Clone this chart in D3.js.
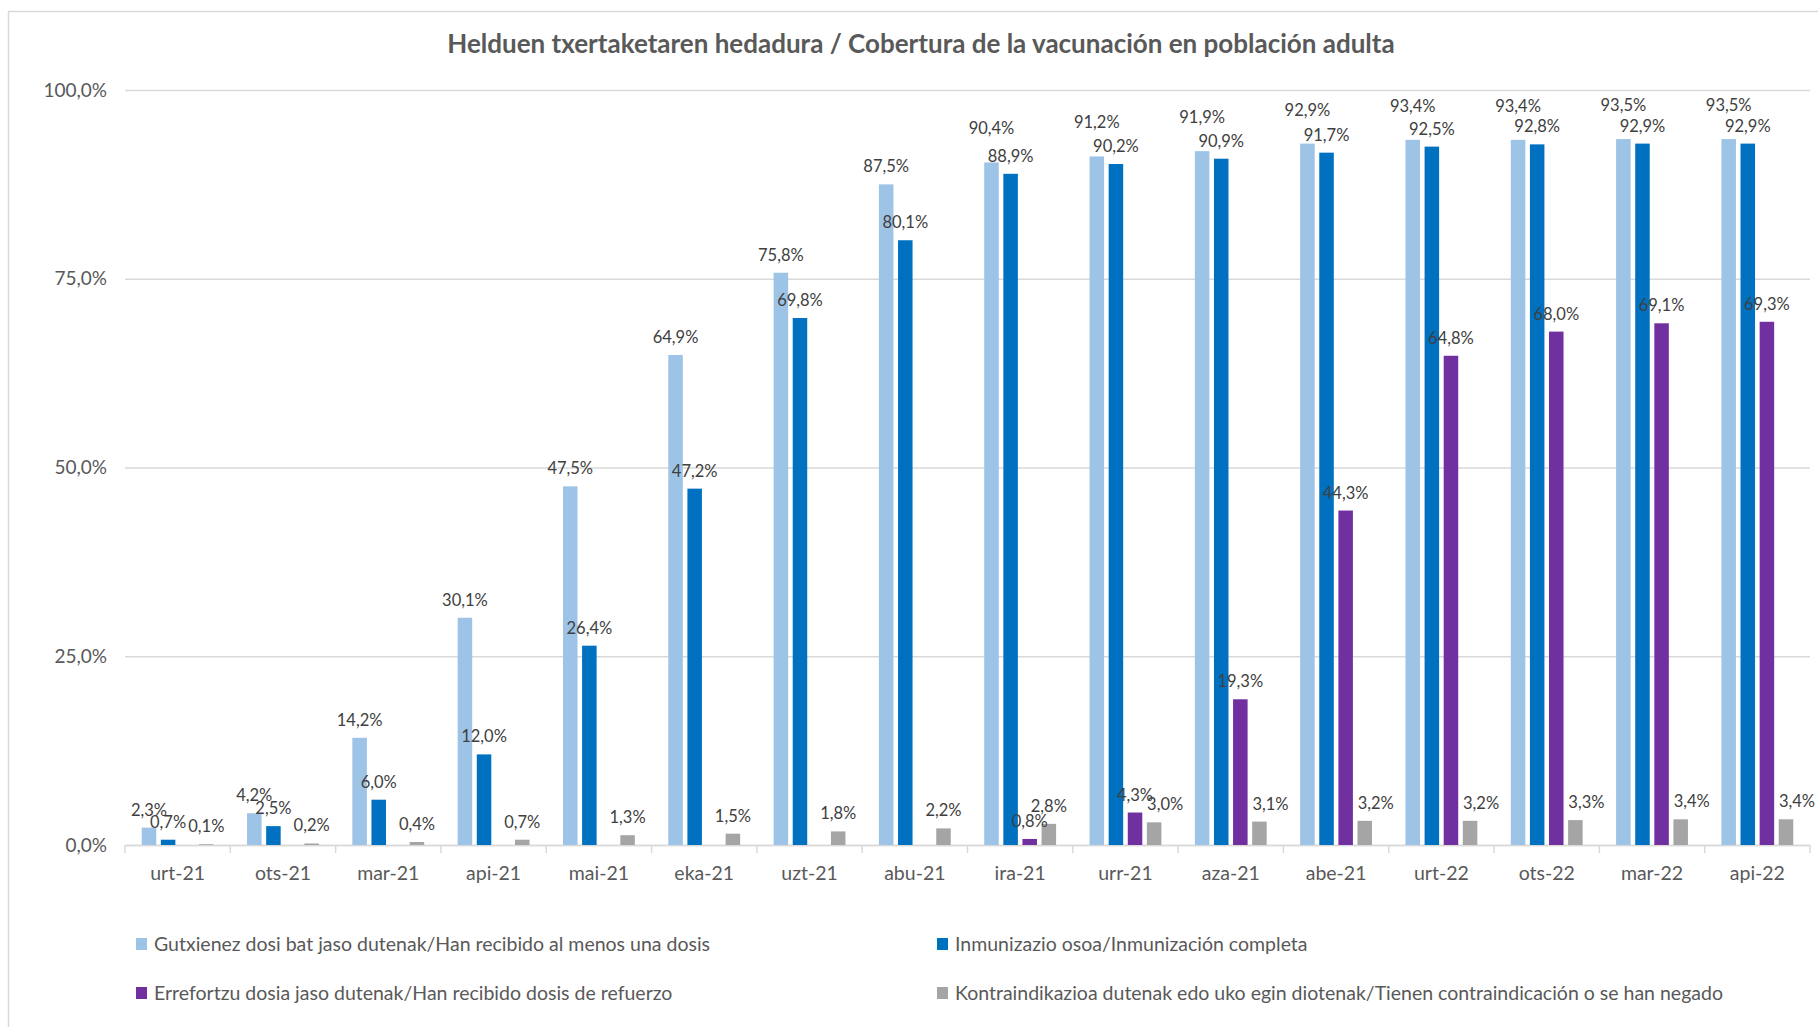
<!DOCTYPE html>
<html>
<head>
<meta charset="utf-8">
<script src="https://cdn.jsdelivr.net/npm/d3@7"></script>
<style>
  body { margin: 0; background: #fff; }
  text { font-family: Lato, "Open Sans", sans-serif; }
</style>
</head>
<body>
<svg id="chart" width="1818" height="1027"></svg>
<script>
let months = ["urt-21", "ots-21", "mar-21", "api-21", "mai-21", "eka-21", "uzt-21", "abu-21",
  "ira-21", "urr-21", "aza-21", "abe-21", "urt-22", "ots-22", "mar-22", "api-22"];

let seriesNames = [
  "Gutxienez dosi bat jaso dutenak/Han recibido al menos una dosis",
  "Inmunizazio osoa/Inmunización completa",
  "Errefortzu dosia jaso dutenak/Han recibido dosis de refuerzo",
  "Kontraindikazioa dutenak edo uko egin diotenak/Tienen contraindicación o se han negado"
];

let atLeastOne = [2.3, 4.2, 14.2, 30.1, 47.5, 64.9, 75.8, 87.5, 90.4, 91.2, 91.9, 92.9, 93.4, 93.4, 93.5, 93.5];
let complete = [0.7, 2.5, 6.0, 12.0, 26.4, 47.2, 69.8, 80.1, 88.9, 90.2, 90.9, 91.7, 92.5, 92.8, 92.9, 92.9];
let booster = [null, null, null, null, null, null, null, null, 0.8, 4.3, 19.3, 44.3, 64.8, 68.0, 69.1, 69.3];
let refused = [0.1, 0.2, 0.4, 0.7, 1.3, 1.5, 1.8, 2.2, 2.8, 3.0, 3.1, 3.2, 3.2, 3.3, 3.4, 3.4];

let yTicks = [0, 25, 50, 75, 100];

let colors = ["#9DC3E6", "#0070C0", "#7030A0", "#A5A5A5"];
let values = [atLeastOne, complete, booster, refused];

let plotLeft = 125, plotRight = 1810, plotTop = 90, plotBottom = 845;

const svg = d3.select("#chart");
const es = d3.formatLocale({ decimal: ",", thousands: ".", grouping: [3], currency: ["", "€"] });
const pct = v => es.format(".1f")(v) + "%";

svg.append("rect")
  .attr("x", 8.5).attr("y", 11.5)
  .attr("width", 1840).attr("height", 1050)
  .attr("fill", "#fff").attr("stroke", "#D9D9D9").attr("stroke-width", 1.5);

svg.append("text")
  .attr("x", 921).attr("y", 53)
  .attr("text-anchor", "middle")
  .attr("font-size", 26).attr("font-weight", "bold")
  .attr("fill", "#595959")
  .text("Helduen txertaketaren hedadura / Cobertura de la vacunación en población adulta");

const x = d3.scaleBand().domain(months).range([plotLeft, plotRight]);
const x1 = d3.scaleBand().domain([0, 1, 2, 3]).range([0, x.bandwidth()])
  .paddingInner(0.24).paddingOuter(0.876);
const y = d3.scaleLinear().domain([0, 100]).range([plotBottom, plotTop]);

// gridlines + y labels
const yAxis = svg.append("g")
  .attr("transform", `translate(${plotLeft},0)`)
  .call(d3.axisLeft(y).tickValues(yTicks).tickFormat(pct).tickSize(-(plotRight - plotLeft)).tickPadding(18));
yAxis.select(".domain").remove();
yAxis.selectAll(".tick line").attr("stroke", "#D9D9D9").attr("stroke-width", 1.5);
yAxis.selectAll(".tick text").attr("font-size", 19).attr("fill", "#595959").attr("font-family", "Lato");

// x axis
const xAxis = svg.append("g")
  .attr("transform", `translate(0,${plotBottom})`)
  .call(d3.axisBottom(x).tickSize(0).tickPadding(21));
xAxis.select(".domain").attr("stroke", "#D9D9D9").attr("stroke-width", 1.5);
xAxis.selectAll(".tick text").attr("font-size", 19.5).attr("fill", "#595959").attr("font-family", "Lato");

svg.append("g").selectAll("line")
  .data(months.concat([null]))
  .join("line")
  .attr("x1", (d, i) => i < months.length ? x(d) : x(months[i - 1]) + x.bandwidth())
  .attr("x2", (d, i) => i < months.length ? x(d) : x(months[i - 1]) + x.bandwidth())
  .attr("y1", plotBottom).attr("y2", plotBottom + 8)
  .attr("stroke", "#D9D9D9").attr("stroke-width", 1.5);

// bars
let cells = [];
values.forEach((arr, s) => arr.forEach((v, i) => {
  if (v != null) cells.push({ s: s, i: i, month: months[i], v: v });
}));

svg.append("g").selectAll("rect")
  .data(cells)
  .join("rect")
  .attr("x", d => x(d.month) + x1(d.s))
  .attr("width", x1.bandwidth())
  .attr("y", d => y(d.v))
  .attr("height", d => y(0) - y(d.v))
  .attr("fill", d => colors[d.s]);

// data labels, nudged like the original: high light-blue labels lifted,
// grey labels moved right once the booster bar is tall enough to collide
const lift = d => d.s == 0 && d.v > 85 && d.v - complete[d.i] < 3 ? 28 : 12;
const nudge = d => d.s == 3 && booster[d.i] != null && booster[d.i] > 2 ? 11 : 0;

svg.append("g").selectAll("text")
  .data(cells)
  .join("text")
  .attr("x", d => x(d.month) + x1(d.s) + x1.bandwidth() / 2 + nudge(d))
  .attr("y", d => y(d.v) - lift(d))
  .attr("text-anchor", "middle")
  .attr("font-size", 16.5)
  .attr("fill", "#404040")
  .text(d => pct(d.v));

// legend
let legendPos = [[136, 944], [937, 944], [136, 993], [937, 993]];
const legend = svg.append("g").selectAll("g")
  .data(seriesNames)
  .join("g")
  .attr("transform", (d, i) => `translate(${legendPos[i][0]},${legendPos[i][1]})`);
legend.append("rect")
  .attr("x", 0).attr("y", -6).attr("width", 11).attr("height", 12)
  .attr("fill", (d, i) => colors[i]);
legend.append("text")
  .attr("x", 18).attr("y", 7)
  .attr("font-size", 19.5).attr("fill", "#595959")
  .text(d => d);
</script>
</body>
</html>
